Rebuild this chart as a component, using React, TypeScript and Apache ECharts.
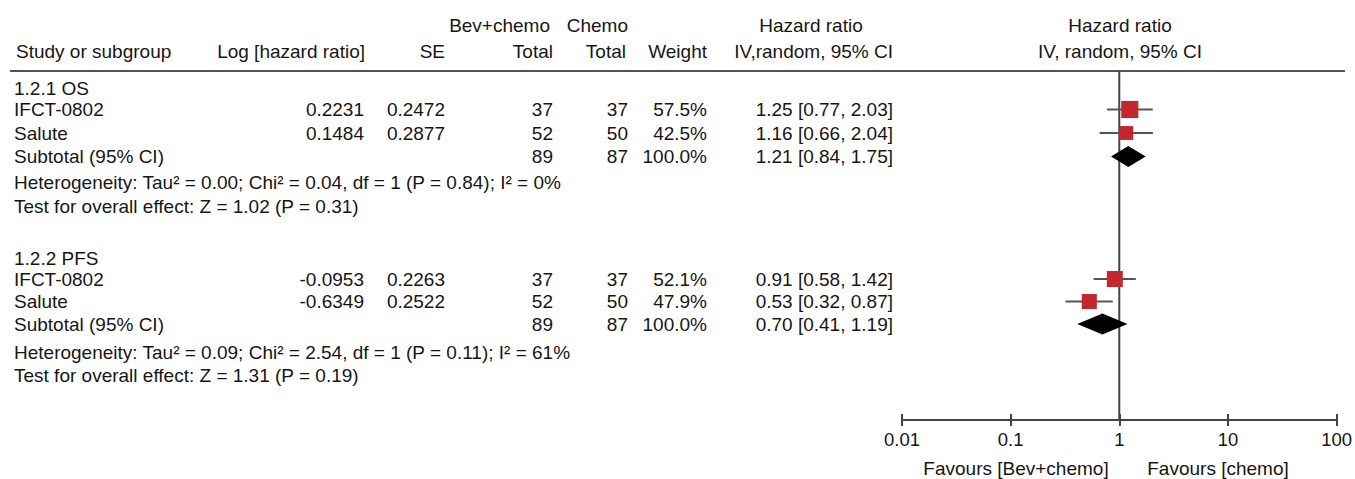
import React, { useEffect, useRef } from "react";
import * as echarts from "echarts";

// ---------- data ----------
const groupTitles = ["1.2.1 OS", "1.2.2 PFS"];
const osStudies = ["IFCT-0802", "Salute"];
const osLogHR = [0.2231, 0.1484];
const osSE = [0.2472, 0.2877];
const osBevTotal = [37, 52];
const osChemoTotal = [37, 50];
const osWeight = [57.5, 42.5];
const osHR = [1.25, 1.16];
const osLo = [0.77, 0.66];
const osHi = [2.03, 2.04];
const osSubtotal = { bev: 89, chemo: 87, weight: 100.0, hr: 1.21, lo: 0.84, hi: 1.75 };
const osHet = "Heterogeneity: Tau\u00b2 = 0.00; Chi\u00b2 = 0.04, df = 1 (P = 0.84); I\u00b2 = 0%";
const osTest = "Test for overall effect: Z = 1.02 (P = 0.31)";

const pfsStudies = ["IFCT-0802", "Salute"];
const pfsLogHR = [-0.0953, -0.6349];
const pfsSE = [0.2263, 0.2522];
const pfsBevTotal = [37, 52];
const pfsChemoTotal = [37, 50];
const pfsWeight = [52.1, 47.9];
const pfsHR = [0.91, 0.53];
const pfsLo = [0.58, 0.32];
const pfsHi = [1.42, 0.87];
const pfsSubtotal = { bev: 89, chemo: 87, weight: 100.0, hr: 0.7, lo: 0.41, hi: 1.19 };
const pfsHet = "Heterogeneity: Tau\u00b2 = 0.09; Chi\u00b2 = 2.54, df = 1 (P = 0.11); I\u00b2 = 61%";
const pfsTest = "Test for overall effect: Z = 1.31 (P = 0.19)";

const axisTicks = [0.01, 0.1, 1, 10, 100];
const favourLeft = "Favours [Bev+chemo]";
const favourRight = "Favours [chemo]";

// ---------- layout ----------
const FONT_FAMILY = '"Liberation Sans", Arial, Helvetica, sans-serif';
const FS = 19;
const TEXT = "#161616";
const Y_TOP = 71; // header rule / top of plot
const Y_AXIS = 420; // x axis line
const PLOT_LEFT = 902;
const PLOT_RIGHT = 1338;
const COL = { name: 14, logHR: 364, se: 445, bev: 553, chemo: 628, weight: 707, ci: 893, plot: 1120 };
// vertical row centres (px) for each group: title, study1, study2, subtotal, het, test
const groupRows = [
  [88, 109.5, 133, 156.5, 182, 206],
  [258, 279, 301.5, 324, 352, 375],
];

const groups = [
  { title: groupTitles[0], studies: osStudies, logHR: osLogHR, se: osSE, bev: osBevTotal, chemo: osChemoTotal, weight: osWeight, hr: osHR, lo: osLo, hi: osHi, sub: osSubtotal, het: osHet, test: osTest },
  { title: groupTitles[1], studies: pfsStudies, logHR: pfsLogHR, se: pfsSE, bev: pfsBevTotal, chemo: pfsChemoTotal, weight: pfsWeight, hr: pfsHR, lo: pfsLo, hi: pfsHi, sub: pfsSubtotal, het: pfsHet, test: pfsTest },
];

function txt(text: string, x: number, y: number, align: string = "left") {
  return {
    type: "text",
    x,
    y,
    silent: true,
    style: {
      text,
      font: `${FS}px ${FONT_FAMILY}`,
      fill: TEXT,
      textAlign: align,
      textVerticalAlign: "middle",
      align,
      verticalAlign: "middle",
    },
  };
}

const ciText = (h: number, l: number, u: number) => `${h.toFixed(2)} [${l.toFixed(2)}, ${u.toFixed(2)}]`;

export default function App() {
  const ref = useRef<HTMLDivElement>(null);

  useEffect(() => {
    if (!ref.current) return;
    const chart = echarts.init(ref.current, null, { renderer: "svg" });

    const graphics: any[] = [];
    // headers
    graphics.push(txt("Bev+chemo", 550, 25, "right"));
    graphics.push(txt("Chemo", COL.chemo, 25, "right"));
    graphics.push(txt("Hazard ratio", 811, 25, "center"));
    graphics.push(txt("Hazard ratio", COL.plot, 25, "center"));
    graphics.push(txt("Study or subgroup", 16, 51, "left"));
    graphics.push(txt("Log [hazard ratio]", COL.logHR + 1, 51, "right"));
    graphics.push(txt("SE", COL.se, 51, "right"));
    graphics.push(txt("Total", COL.bev, 51, "right"));
    graphics.push(txt("Total", COL.chemo - 2, 51, "right"));
    graphics.push(txt("Weight", COL.weight, 51, "right"));
    graphics.push(txt("IV,random, 95% CI", COL.ci, 51, "right"));
    graphics.push(txt("IV, random, 95% CI", COL.plot, 51, "center"));
    graphics.push({
      type: "line",
      silent: true,
      shape: { x1: 10, y1: Y_TOP, x2: 1345, y2: Y_TOP },
      style: { stroke: "#555", lineWidth: 2 },
    });

    const markData: any[] = [];
    groups.forEach((g, gi) => {
      const rows = groupRows[gi];
      graphics.push(txt(g.title, COL.name, rows[0]));
      g.studies.forEach((s, i) => {
        const y = rows[1 + i];
        graphics.push(txt(s, COL.name, y));
        graphics.push(txt(g.logHR[i].toFixed(4), COL.logHR, y, "right"));
        graphics.push(txt(g.se[i].toFixed(4), COL.se, y, "right"));
        graphics.push(txt(String(g.bev[i]), COL.bev, y, "right"));
        graphics.push(txt(String(g.chemo[i]), COL.chemo, y, "right"));
        graphics.push(txt(g.weight[i].toFixed(1) + "%", COL.weight, y, "right"));
        graphics.push(txt(ciText(g.hr[i], g.lo[i], g.hi[i]), COL.ci, y, "right"));
        markData.push({ value: [g.hr[i], y, g.lo[i], g.hi[i], g.weight[i], 0] });
      });
      const ys = rows[3];
      graphics.push(txt("Subtotal (95% CI)", COL.name, ys));
      graphics.push(txt(String(g.sub.bev), COL.bev, ys, "right"));
      graphics.push(txt(String(g.sub.chemo), COL.chemo, ys, "right"));
      graphics.push(txt(g.sub.weight.toFixed(1) + "%", COL.weight, ys, "right"));
      graphics.push(txt(ciText(g.sub.hr, g.sub.lo, g.sub.hi), COL.ci, ys, "right"));
      markData.push({ value: [g.sub.hr, ys, g.sub.lo, g.sub.hi, g.sub.weight, 1] });
      graphics.push(txt(g.het, COL.name, rows[4]));
      graphics.push(txt(g.test, COL.name, rows[5]));
    });

    graphics.push(txt(favourLeft, 1016, 468, "center"));
    graphics.push(txt(favourRight, 1218, 468, "center"));

    const axisCommon = {
      type: "log",
      logBase: 10,
      min: axisTicks[0],
      max: axisTicks[axisTicks.length - 1],
      splitNumber: 4,
      position: "bottom",
      splitLine: { show: false },
      minorTick: { show: false },
      axisLine: { show: true, lineStyle: { color: "#444", width: 2 } },
    };

    chart.setOption({
      animation: false,
      grid: { left: PLOT_LEFT, right: 1355 - PLOT_RIGHT, top: Y_TOP, bottom: 479 - Y_AXIS, containLabel: false },
      xAxis: [
        {
          ...axisCommon,
          axisTick: { show: true, inside: false, length: 6, lineStyle: { color: "#444", width: 2 } },
          axisLabel: {
            show: true,
            margin: 10,
            fontSize: 18.5,
            fontFamily: FONT_FAMILY,
            color: TEXT,
            formatter: (v: number) => String(Number(v.toPrecision(3))),
          },
        },
        {
          ...axisCommon,
          axisTick: { show: true, inside: true, length: 6, lineStyle: { color: "#444", width: 2 } },
          axisLabel: { show: false },
        },
      ],
      yAxis: { type: "value", min: Y_TOP, max: Y_AXIS, inverse: true, show: false },
      series: [
        {
          type: "line",
          xAxisIndex: 0,
          z: 1,
          silent: true,
          symbol: "none",
          lineStyle: { color: "#444", width: 2 },
          data: [
            [1, Y_TOP],
            [1, Y_AXIS],
          ],
        },
        {
          type: "custom",
          xAxisIndex: 0,
          z: 5,
          silent: true,
          data: markData,
          renderItem: (params: any, api: any) => {
            const hr = api.value(0);
            const y = api.value(1);
            const lo = api.value(2);
            const hi = api.value(3);
            const w = api.value(4);
            const kind = api.value(5);
            const c = api.coord([hr, y]);
            const pl = api.coord([lo, y]);
            const ph = api.coord([hi, y]);
            if (kind === 1) {
              const hh = 10.5;
              return {
                type: "polygon",
                shape: { points: [[pl[0], c[1]], [c[0], c[1] - hh], [ph[0], c[1]], [c[0], c[1] + hh]] },
                style: { fill: "#000" },
              };
            }
            const size = 0.22 * w + 4.5;
            return {
              type: "group",
              children: [
                {
                  type: "line",
                  shape: { x1: pl[0], y1: c[1], x2: ph[0], y2: c[1] },
                  style: { stroke: "#555", lineWidth: 2 },
                },
                {
                  type: "rect",
                  shape: { x: c[0] - size / 2, y: c[1] - size / 2, width: size, height: size },
                  style: { fill: "#C1272D" },
                },
              ],
            };
          },
        },
      ],
      graphic: graphics,
    });

    return () => chart.dispose();
  }, []);

  return (
    <div
      ref={ref}
      style={{ position: "fixed", left: 0, top: 0, width: 1355, height: 479, background: "#fff" }}
    />
  );
}
